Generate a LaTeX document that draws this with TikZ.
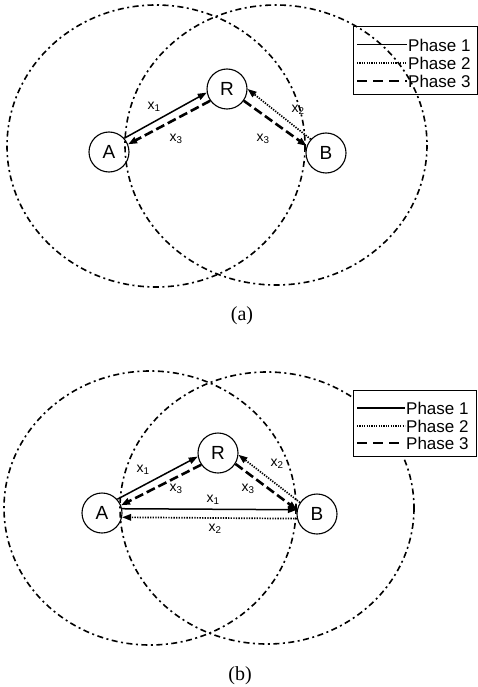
\documentclass[tikz,border=0pt]{standalone}
\usepackage{fontspec}
\setmainfont{Liberation Serif}
\setsansfont{Liberation Sans}
\usetikzlibrary{arrows.meta}
\begin{document}
\begin{tikzpicture}[x=1pt,y=-1pt,
  rangeline/.style={line width=1.6pt, dash pattern=on 6pt off 3.5pt on 2pt off 3.5pt},
  station/.style={circle, draw, line width=1.1pt, minimum size=40pt, inner sep=0pt, font=\sffamily\fontsize{19}{19}\selectfont},
  arrtip/.style={-{Triangle[length=9pt,width=6.5pt]}},
  phaseone/.style={arrtip, line width=1.5pt},
  phasetwo/.style={arrtip, line width=1.7pt, dash pattern=on 1.3pt off 1.3pt},
  phasethree/.style={arrtip, line width=2.6pt, dash pattern=on 9pt off 4pt},
  xlbl/.style={font=\sffamily\fontsize{14}{14}\selectfont, inner sep=0pt},
  legtxt/.style={font=\sffamily\fontsize{17}{17}\selectfont, anchor=west, inner sep=0pt},
  legbox/.style={draw, line width=1pt},
  captxt/.style={font=\rmfamily\fontsize{20}{20}\selectfont}
]
\path[use as bounding box] (0,0) rectangle (478,687);

% ---------------- panel (a) ----------------
\draw[rangeline] (156,146) ellipse [x radius=149, y radius=141];
\draw[rangeline] (276,145) ellipse [x radius=151, y radius=140];

\node[station] (Aa) at (109,152) {A};
\node[station] (Ra) at (227,89) {R};
\node[station] (Ba) at (326,153) {B};

\draw[phaseone] (Aa.42) -- (Ra.190);
\draw[phasethree] (Ra.215) -- (Aa.22);
\draw[phasetwo] (Ba.138) -- (Ra.0);
\draw[phasethree] (Ra.-35) -- (Ba.160);

\node[xlbl] (a1) at (154,107) {x\textsubscript{1}};
\node[xlbl] (a3l) at (176,139) {x\textsubscript{3}};
\node[xlbl] (a3r) at (263,139) {x\textsubscript{3}};
\node[xlbl] (a2) at (298,110) {x\textsubscript{2}};

\node[legbox, minimum width=124pt, minimum height=68pt, anchor=north west] (lega) at (353,26) {};
\coordinate (la1s) at (357,45); \coordinate (la1e) at (407,45);
\coordinate (la2s) at (357,63); \coordinate (la2e) at (407,63);
\coordinate (la3s) at (357,81); \coordinate (la3e) at (407,81);
\draw[line width=1pt] (la1s) -- (la1e);
\draw[line width=1.3pt, dash pattern=on 1.2pt off 1.2pt] (la2s) -- (la2e);
\draw[line width=2pt, dash pattern=on 10pt off 6pt] (la3s) -- (la3e);
\node[legtxt] (ta1) at (408,45) {Phase 1};
\node[legtxt] (ta2) at (408,63) {Phase 2};
\node[legtxt] (ta3) at (408,81) {Phase 3};

\node[captxt] (capa) at (242,316) {(a)};

% ---------------- panel (b) ----------------
\draw[rangeline] (150,508) ellipse [x radius=146, y radius=137];
\draw[rangeline] (267,508) ellipse [x radius=147, y radius=136];

\node[legbox, fill=white, minimum width=123pt, minimum height=66pt, anchor=north west] (legb) at (353,390) {};
\coordinate (lb1s) at (357,408); \coordinate (lb1e) at (405,408);
\coordinate (lb2s) at (357,426); \coordinate (lb2e) at (405,426);
\coordinate (lb3s) at (357,443); \coordinate (lb3e) at (405,443);
\draw[line width=1.2pt] (lb1s) -- (lb1e);
\draw[line width=1.3pt, dash pattern=on 1.2pt off 1.2pt] (lb2s) -- (lb2e);
\draw[line width=1.2pt, dash pattern=on 10pt off 6pt] (lb3s) -- (lb3e);
\node[legtxt] (tb1) at (406,408) {Phase 1};
\node[legtxt] (tb2) at (406,426) {Phase 2};
\node[legtxt] (tb3) at (406,443) {Phase 3};

\node[station] (Ab) at (102,513) {A};
\node[station] (Rb) at (218,453) {R};
\node[station] (Bb) at (317,514) {B};

\draw[phaseone] (Ab.42) -- (Rb.190);
\draw[phasethree] (Rb.215) -- (Ab.22);
\draw[phasetwo] (Bb.146) -- (Rb.-5);
\draw[phasethree] (Rb.-32) -- (Bb.168);
\draw[phaseone] (Ab.12) -- (Bb.168);
\draw[phasetwo] (Bb.-167) -- (Ab.-12);

\node[xlbl] (b1) at (143,470) {x\textsubscript{1}};
\node[xlbl] (b3l) at (176,489) {x\textsubscript{3}};
\node[xlbl] (b3r) at (248,489) {x\textsubscript{3}};
\node[xlbl] (b2) at (277,464) {x\textsubscript{2}};
\node[xlbl] (b1m) at (213,500) {x\textsubscript{1}};
\node[xlbl] (b2m) at (215,529) {x\textsubscript{2}};

\node[captxt] (capb) at (240,676) {(b)};
\end{tikzpicture}
\end{document}
